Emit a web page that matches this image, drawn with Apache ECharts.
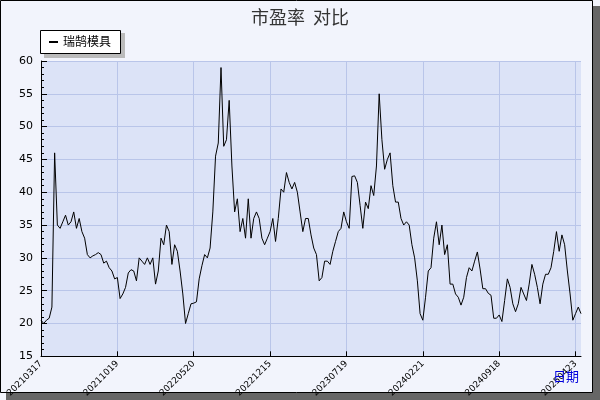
<!DOCTYPE html>
<html><head><meta charset="utf-8">
<script src="https://cdn.jsdelivr.net/npm/echarts@6/dist/echarts.min.js"></script>
<style>html,body{margin:0;padding:0;background:#fff}#c{width:600px;height:400px}</style>
</head><body><div id="c"></div>
<script>
const tickLabels = ["20210317","20211019","20220520","20221215","20230719","20240221","20240918","20250423"];
const seg1 = [20.5,20,20.5,20.8,22.5,46,35,34.5,35.5,36.5,35,35.5,37,34.5,36,34,33,30.5,30,30.3,30.5,30.8,30.5,29.2,29.5,28.5,28,26.8];
const seg2 = [27,23.8,24.5,25.5,27.7,28.2,28,26.5,30,29.5,29,30,29,30,26,28,33,32,35,34,29,32,31,28,24.5,20,21.5,23];
const seg3 = [23.1,23.3,26.8,28.8,30.5,30,31.5,37,45.5,47.5,59,47,48,54,44,37,39,34,36,33,39,33,36,37,36,33,32,33];
const seg4 = [34,36,32.5,36,40.5,40,43,41.5,40.5,41.5,40,37,34,36,36,33.5,31.5,30.5,26.5,27,29.5,29.5,29,31,32.5,34,34.5,37];
const seg5 = [35.5,34.5,42.4,42.5,41.5,38,34.5,38.5,37.5,41,39.5,44,55,48,43.5,45,46,41,38.5,38.5,36,35,35.5,35,32,30,26.5,21.5];
const seg6 = [20.5,24,28,28.5,33,35.5,32,35,30.5,32,26,26,24.5,24,22.8,24,27,28.5,28,29.5,30.9,28.3,25.3,25.3,24.6,24.3,20.8,20.8];
const seg7 = [21.3,20.3,23.5,26.8,25.5,23,21.8,23,25.5,24.5,23.5,26,29,27.5,25.5,23,26,27.5,27.5,28.5,31,34,31,33.5,32,28,24.5,20.5];
const seg8 = [21.5,22.5,21.5];
const values = [].concat(seg1,seg2,seg3,seg4,seg5,seg6,seg7,seg8);
const step = 28;
const cats = values.map((v,i)=> i%step===0 ? (tickLabels[i/step]||"") : String(i));
const show = (i)=> i%step===0;
const chart = echarts.init(document.getElementById('c'));
chart.setOption({
  animation:false,
  backgroundColor:'#f2f4fc',
  graphic:[
    {type:'rect',shape:{x:6,y:6,width:594,height:394},style:{fill:'#666'},z:-10},
    {type:'rect',shape:{x:0.5,y:0.5,width:592,height:392},style:{fill:'#f2f4fc',stroke:'#000',lineWidth:1},z:-9},
    {type:'rect',shape:{x:44,y:33,width:81,height:25},style:{fill:'#bbb'},z:-1},
    {type:'rect',shape:{x:40.5,y:30.5,width:80,height:23},style:{fill:'#fff',stroke:'#000',lineWidth:1},z:0},
    {type:'line',shape:{x1:49,y1:42,x2:58,y2:42},style:{stroke:'#000',lineWidth:2},z:1},
    {type:'text',left:63,top:35,style:{text:'瑞鹄模具',font:'12px "Noto Sans CJK SC"',fill:'#000'},z:1},
    {type:'text',left:553,top:370,style:{text:'日期',font:'13px "Noto Sans CJK SC"',fill:'#0000dd'},z:5}
  ],
  title:{text:'市盈率  对比',left:'center',top:3,textStyle:{fontSize:18,fontWeight:'normal',color:'#333',fontFamily:'Noto Sans CJK SC'}},
  grid:{left:41,right:19,top:61,bottom:43,show:true,backgroundColor:'#dce3f7',borderWidth:0},
  xAxis:{type:'category',data:cats,boundaryGap:false,
    axisLine:{lineStyle:{color:'#000'}},
    axisTick:{interval:(i)=>show(i),length:5,inside:true,lineStyle:{color:'#000'}},
    splitLine:{show:true,interval:(i)=>show(i),lineStyle:{color:'#b9c5e9'}},
    axisLabel:{interval:(i)=>show(i),rotate:45,fontSize:9,color:'#000',margin:6,fontFamily:'DejaVu Sans',formatter:(v,i)=>show(i)?v:''}},
  yAxis:{type:'value',min:15,max:60,interval:5,
    axisLine:{show:true,lineStyle:{color:'#000'}},
    axisTick:{show:true,inside:true,length:6,lineStyle:{color:'#000'}},
    minorTick:{show:true,splitNumber:5,length:3,lineStyle:{color:'#000'}},
    splitLine:{lineStyle:{color:'#b9c5e9'}},
    axisLabel:{fontSize:11,color:'#000',fontFamily:'DejaVu Sans'}},
  series:[{type:'line',data:values,symbol:'none',lineStyle:{color:'#000',width:1}}]
});
</script></body></html>
